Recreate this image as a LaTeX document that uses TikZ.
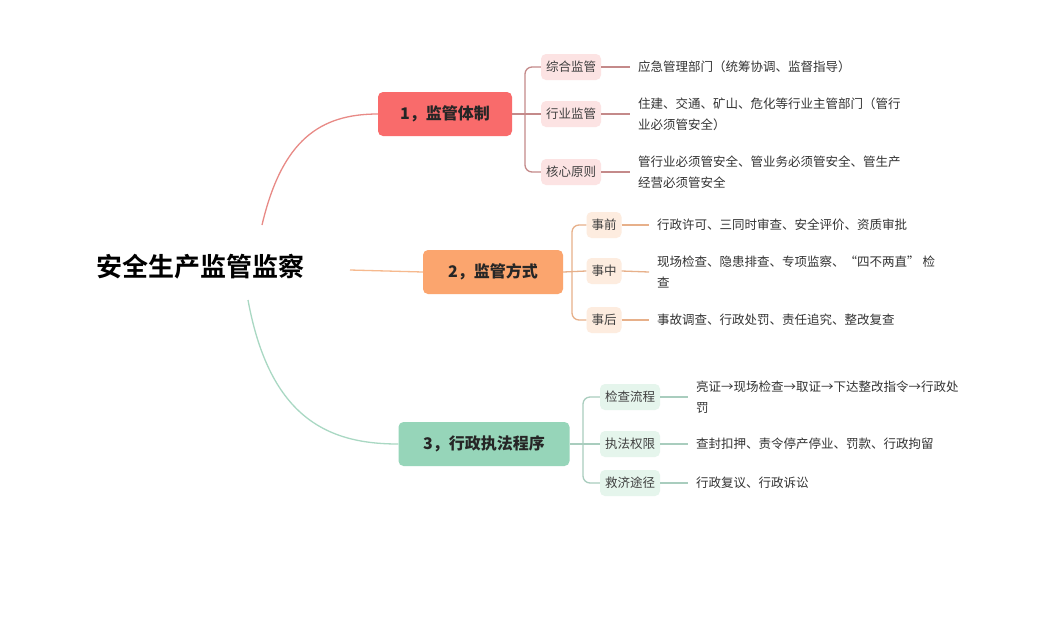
\documentclass[tikz,border=0pt]{standalone}
\usepackage{fontspec}
\setmainfont{Noto Sans CJK SC}
\newfontfamily\boldcjk{Noto Sans CJK SC Bold}
\begin{document}
\begin{tikzpicture}[x=1pt,y=-1pt,
  mainbox/.style={rounded corners=5pt,minimum height=44pt,font=\fontsize{16}{18}\selectfont\bfseries,text=black!85},
  child/.style={rounded corners=5pt,minimum height=26pt,inner xsep=5pt,font=\fontsize{12.5}{15}\selectfont,text=black!75},
  leaf/.style={anchor=west,align=left,font=\fontsize{12.5}{21}\selectfont,text=black!80,inner sep=0pt},
  ln/.style={line width=1.3pt}]
\useasboundingbox[fill=white] (0,0) rectangle (1046,619);
\definecolor{rA}{HTML}{F96B6B}\definecolor{rL}{HTML}{E88A86}\definecolor{rC}{HTML}{FCE3E3}\definecolor{rD}{HTML}{C48A8A}
\definecolor{oA}{HTML}{FBA56E}\definecolor{oL}{HTML}{F6B98E}\definecolor{oC}{HTML}{FDECDF}\definecolor{oD}{HTML}{E7B08A}
\definecolor{gA}{HTML}{96D5B9}\definecolor{gL}{HTML}{A9D8C3}\definecolor{gC}{HTML}{E5F5EC}\definecolor{gD}{HTML}{A9CDBE}
\node (root) at (200,267) {\boldcjk\fontsize{26}{30}\selectfont 安全生产监管监察};
\coordinate (r1) at (262,225); \coordinate (r2) at (350,270); \coordinate (r3) at (248,300);
% branch 1
\node[mainbox,fill=rA,minimum width=134pt] (b1) at (445,114) {1，监管体制};
\node[child,fill=rC] (c11) at (571,67) {综合监管};
\node[child,fill=rC] (c12) at (571,114) {行业监管};
\node[child,fill=rC] (c13) at (571,172) {核心原则};
\node[leaf] (l11) at (638,67) {应急管理部门（统筹协调、监督指导）};
\node[leaf] (l12) at (638,114) {住建、交通、矿山、危化等行业主管部门（管行\\业必须管安全）};
\node[leaf] (l13) at (638,172) {管行业必须管安全、管业务必须管安全、管生产\\经营必须管安全};
\draw[ln,rL] (r1) .. controls (282,140) and (320,114) .. (b1.west);
\draw[ln,rD] (b1.east) -- (c12.west);
\draw[ln,rD,rounded corners=7pt] (c11.west) -- (525,67) -- (525,172) -- (c13.west);
\draw[ln,rD] (c11.east) -- ([xshift=-8pt]l11.west);
\draw[ln,rD] (c12.east) -- ([xshift=-8pt]l12.west);
\draw[ln,rD] (c13.east) -- ([xshift=-8pt]l13.west);
% branch 2
\node[mainbox,fill=oA,minimum width=140pt] (b2) at (493,272) {2，监管方式};
\node[child,fill=oC] (c21) at (604,225) {事前};
\node[child,fill=oC] (c22) at (604,271) {事中};
\node[child,fill=oC] (c23) at (604,320) {事后};
\node[leaf] (l21) at (657,225) {行政许可、三同时审查、安全评价、资质审批};
\node[leaf] (l22) at (657,272) {现场检查、隐患排查、专项监察、“四不两直” 检\\查};
\node[leaf] (l23) at (657,320) {事故调查、行政处罚、责任追究、整改复查};
\draw[ln,oL] (r2) -- (b2.west);
\draw[ln,oD] (b2.east) -- (c22.west);
\draw[ln,oD,rounded corners=7pt] (c21.west) -- (572,225) -- (572,320) -- (c23.west);
\draw[ln,oD] (c21.east) -- ([xshift=-8pt]l21.west);
\draw[ln,oD] (c22.east) -- ([xshift=-8pt]l22.west);
\draw[ln,oD] (c23.east) -- ([xshift=-8pt]l23.west);
% branch 3
\node[mainbox,fill=gA,minimum width=171pt] (b3) at (484,444) {3，行政执法程序};
\node[child,fill=gC] (c31) at (630,397) {检查流程};
\node[child,fill=gC] (c32) at (630,444) {执法权限};
\node[child,fill=gC] (c33) at (630,483) {救济途径};
\node[leaf] (l31) at (696,397) {亮证→现场检查→取证→下达整改指令→行政处\\罚};
\node[leaf] (l32) at (696,444) {查封扣押、责令停产停业、罚款、行政拘留};
\node[leaf] (l33) at (696,483) {行政复议、行政诉讼};
\draw[ln,gL] (r3) .. controls (270,420) and (330,444) .. (b3.west);
\draw[ln,gD] (b3.east) -- (c32.west);
\draw[ln,gD,rounded corners=7pt] (c31.west) -- (583,397) -- (583,483) -- (c33.west);
\draw[ln,gD] (c31.east) -- ([xshift=-8pt]l31.west);
\draw[ln,gD] (c32.east) -- ([xshift=-8pt]l32.west);
\draw[ln,gD] (c33.east) -- ([xshift=-8pt]l33.west);
\end{tikzpicture}
\end{document}
